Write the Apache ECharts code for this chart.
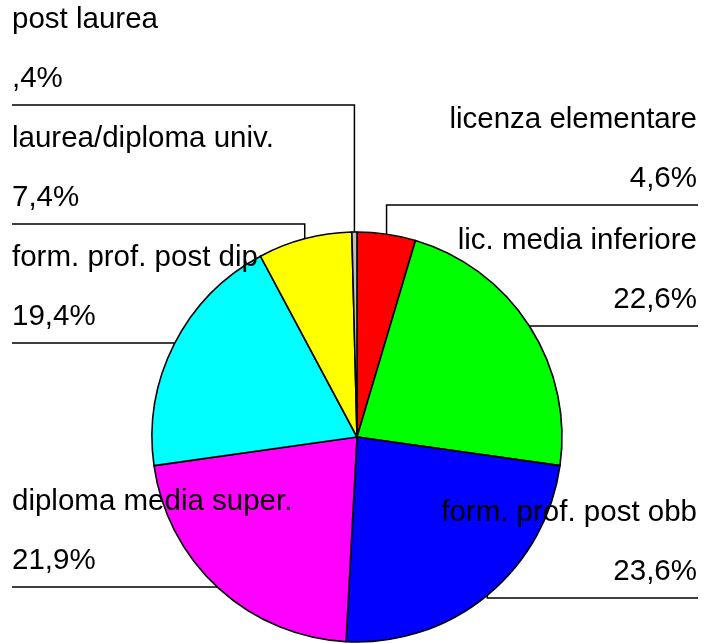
<!DOCTYPE html>
<html>
<head>
<meta charset="utf-8">
<script src="https://cdn.jsdelivr.net/npm/echarts@6/dist/echarts.min.js"></script>
<style>
  html, body { margin: 0; padding: 0; background: #fff; }
  #chart { width: 704px; height: 643px; }
</style>
</head>
<body>
<div id="chart"></div>
<script>
// categorie (in senso orario dalle ore 12)
const categories = [
  "licenza elementare",
  "lic. media inferiore",
  "form. prof. post obb",
  "diploma media super.",
  "form. prof. post dip",
  "laurea/diploma univ.",
  "post laurea"
];
// percentuali
const shares = [4.6, 22.6, 23.6, 21.9, 19.4, 7.4, 0.4];
const colors = ["#ff0000", "#00ff00", "#0000ff", "#ff00ff", "#00ffff", "#ffff00", "#c0c0c0"];

// posizione verticale della linea sotto ogni etichetta
const underlineY = [205, 326, 598, 587, 343, 224, 105];

const cx = 357, cy = 437, r = 205;
const leftX = 12, rightX = 697;

function fmtPct(v) {
  // stile "4,6%" / ",4%"
  return v.toFixed(1).replace(".", ",").replace(/^0/, "") + "%";
}

let myChart = echarts.init(document.getElementById("chart"));

let option = {
  animation: false,
  series: [
    {
      type: "pie",
      center: [cx, cy],
      radius: r,
      startAngle: 90,
      clockwise: true,
      avoidLabelOverlap: false,
      silent: true,
      data: categories.map(function (name, i) {
        return { name: name, value: shares[i], itemStyle: { color: colors[i] } };
      }),
      itemStyle: {
        borderColor: "#000",
        borderWidth: 1.6
      },
      label: {
        show: true,
        position: "outside",
        color: "#000",
        fontFamily: "Liberation Sans, Arial, sans-serif",
        fontSize: 29.5,
        lineHeight: 59,
        formatter: function (p) {
          return p.name + "\n" + fmtPct(p.value);
        }
      },
      labelLine: {
        show: true,
        length: 10,
        length2: 10,
        lineStyle: { color: "#000", width: 1.5 }
      },
      labelLayout: function (params) {
        const i = params.dataIndex;
        const pts = params.labelLinePoints;
        const start = pts[0];
        const isLeft = start[0] < cx;
        const y = underlineY[i];
        return {
          x: isLeft ? leftX : rightX,
          y: y - 115,
          align: isLeft ? "left" : "right",
          verticalAlign: "top",
          labelLinePoints: [
            [start[0], start[1]],
            [start[0], y],
            [isLeft ? leftX : rightX + 1, y]
          ]
        };
      }
    }
  ]
};

myChart.setOption(option);
</script>
</body>
</html>
